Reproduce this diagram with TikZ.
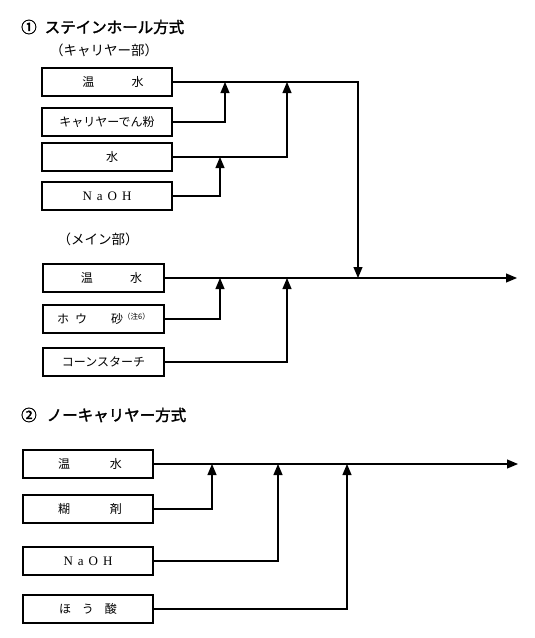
\documentclass[tikz,border=0pt]{standalone}
\usepackage{fontspec}
\setmainfont{Liberation Serif}
\newfontfamily\jp{Noto Sans CJK JP}
\newfontfamily\jpb[FakeBold=2]{Noto Sans CJK JP}
\usetikzlibrary{arrows.meta}
\begin{document}
\begin{tikzpicture}[x=1pt,y=-1pt,
  box/.style={draw, line width=1.1pt, minimum height=28pt, inner sep=0pt, font=\jp\fontsize{12}{14}\selectfont},
  wbox/.style={box, minimum width=130pt},
  mbox/.style={box, minimum width=121pt},
  ttl/.style={anchor=west, inner sep=0pt, font=\jpb\fontsize{15.5}{18}\selectfont},
  sub/.style={inner sep=0pt, font=\jp\fontsize{13.5}{16}\selectfont},
  arr/.style={line width=1.1pt, -{Triangle[width=9pt,length=11pt]}}]
\useasboundingbox (0,0) rectangle (535,638);
% Section 1
\node[ttl] (t1) at (21,27) {①\hspace{8pt}ステインホール方式};
\node[sub] (s1) at (104,50) {（キャリヤー部）};
\node[wbox] (b1) at (107,82) {\hspace{12pt}温\hspace{3.1em}水};
\node[wbox] (b2) at (107,122) {キャリヤーでん粉};
\node[wbox] (b3) at (107,157) {\hspace{10pt}水};
\node[wbox] (b4) at (107,196) {\rmfamily\fontsize{13}{14}\selectfont N\hspace{5pt}a\hspace{5pt}O\hspace{5pt}H};
\node[sub] (s2) at (98,239) {（メイン部）};
\node[mbox] (m1) at (103.5,278) {\hspace{16pt}温\hspace{3.1em}水};
\node[mbox] (m2) at (103.5,319) {ホ\hspace{6pt}ウ\hspace{24pt}砂\raisebox{4pt}{\fontsize{7.5}{8}\selectfont （注6）}\hspace{6pt}};
\node[mbox] (m3) at (103.5,362) {コーンスターチ};
\coordinate (c1) at (358,278);
\coordinate (out1) at (517,278);
\coordinate (a1) at (225,82);
\coordinate (a2) at (287,82);
\coordinate (a3) at (220,157);
\coordinate (a4) at (220,278);
\coordinate (a5) at (287,278);
\draw[arr] (b1.east) -| (c1);
\draw[arr] (b2.east) -| (a1);
\draw[arr] (b3.east) -| (a2);
\draw[arr] (b4.east) -| (a3);
\draw[arr] (m1.east) -- (out1);
\draw[arr] (m2.east) -| (a4);
\draw[arr] (m3.east) -| (a5);
% Section 2
\node[ttl] (t2) at (21,415) {②\hspace{10pt}ノーキャリヤー方式};
\node[wbox] (n1) at (88,464) {\hspace{4pt}温\hspace{3.3em}水};
\node[wbox] (n2) at (88,509) {\hspace{4pt}糊\hspace{3.3em}剤};
\node[wbox] (n3) at (88,561) {\rmfamily\fontsize{13}{14}\selectfont N\hspace{5pt}a\hspace{5pt}O\hspace{5pt}H};
\node[wbox] (n4) at (88,609) {ほ\hspace{11pt}う\hspace{11pt}酸};
\coordinate (out2) at (518,464);
\coordinate (a6) at (212,464);
\coordinate (a7) at (278,464);
\coordinate (a8) at (347,464);
\draw[arr] (n1.east) -- (out2);
\draw[arr] (n2.east) -| (a6);
\draw[arr] (n3.east) -| (a7);
\draw[arr] (n4.east) -| (a8);
\end{tikzpicture}
\end{document}
